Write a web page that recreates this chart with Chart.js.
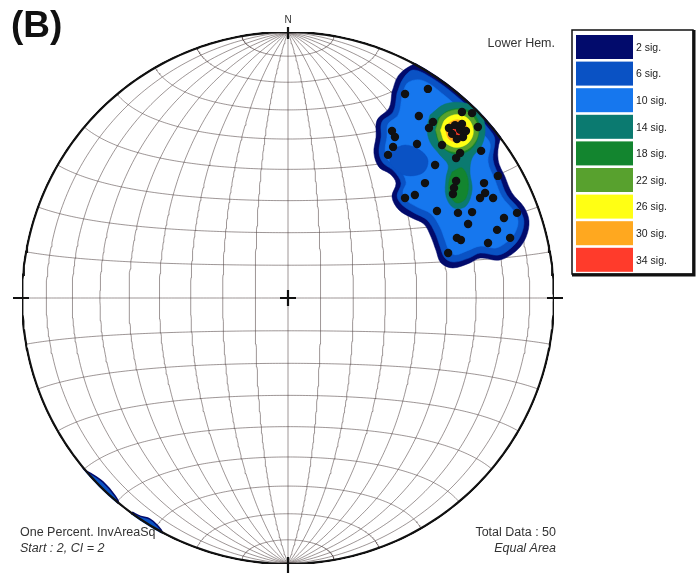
<!DOCTYPE html>
<html>
<head>
<meta charset="utf-8">
<script src="https://cdn.jsdelivr.net/npm/chart.js@4.4.1/dist/chart.umd.min.js"></script>
<style>
  html, body { margin: 0; padding: 0; background: #fff; }
</style>
</head>
<body>
<canvas id="chart" width="698" height="574"></canvas>
<script>
// poles: x = east, y = north, primitive radius = 1
const poleX = [0.526, 0.440, 0.492, 0.545, 0.530, 0.654, 0.692, 0.391, 0.402, 0.628,
               0.647, 0.617, 0.658, 0.635, 0.654, 0.714, 0.485, 0.579, 0.395, 0.376,
               0.647, 0.632, 0.726, 0.553, 0.789, 0.632, 0.624, 0.620, 0.515, 0.737,
               0.477, 0.440, 0.741, 0.722, 0.771, 0.560, 0.639, 0.692, 0.861, 0.677,
               0.812, 0.786, 0.635, 0.650, 0.835, 0.752, 0.602, 0.605, 0.669];
const poleY = [0.786, 0.767, 0.684, 0.662, 0.639, 0.699, 0.695, 0.628, 0.605, 0.650,
               0.632, 0.617, 0.605, 0.598, 0.654, 0.643, 0.579, 0.575, 0.568, 0.538,
               0.545, 0.526, 0.553, 0.500, 0.459, 0.440, 0.414, 0.391, 0.432, 0.432,
               0.387, 0.376, 0.395, 0.376, 0.376, 0.327, 0.320, 0.323, 0.320, 0.278,
               0.301, 0.256, 0.226, 0.218, 0.226, 0.207, 0.169, 0.639, 0.628];

const levelLabels = ['2 sig.', '6 sig.', '10 sig.', '14 sig.', '18 sig.', '22 sig.', '26 sig.', '30 sig.', '34 sig.'];
const levelColors = ['#020b6c', '#0a52c4', '#1677ee', '#0b7a70', '#13852f', '#58a12e', '#ffff14', '#ffa81f', '#ff3b2b'];

// contour outlines, [x, y] in the same net units
const contour2 = [[0.391, 0.775], [0.414, 0.835], [0.459, 0.872], [0.515, 0.895], [0.609, 0.914],
  [0.760, 0.820], [0.842, 0.677], [0.797, 0.594], [0.790, 0.519], [0.816, 0.455], [0.842, 0.395],
  [0.887, 0.342], [0.906, 0.290], [0.895, 0.229], [0.861, 0.180], [0.797, 0.143], [0.722, 0.150],
  [0.684, 0.132], [0.620, 0.113], [0.575, 0.132], [0.556, 0.180], [0.538, 0.229], [0.511, 0.278],
  [0.466, 0.301], [0.417, 0.331], [0.391, 0.380], [0.406, 0.432], [0.384, 0.466], [0.342, 0.492],
  [0.323, 0.545], [0.331, 0.605], [0.335, 0.669], [0.380, 0.714]];
const contour6 = [[0.410, 0.771], [0.432, 0.823], [0.470, 0.857], [0.536, 0.830], [0.620, 0.770],
  [0.697, 0.700], [0.766, 0.622], [0.778, 0.594], [0.771, 0.519], [0.797, 0.451], [0.823, 0.387],
  [0.868, 0.335], [0.887, 0.290], [0.876, 0.237], [0.846, 0.195], [0.793, 0.162], [0.722, 0.169],
  [0.680, 0.150], [0.624, 0.135], [0.590, 0.150], [0.571, 0.195], [0.553, 0.244], [0.523, 0.293],
  [0.474, 0.320], [0.429, 0.350], [0.410, 0.383], [0.425, 0.432], [0.398, 0.477], [0.357, 0.508],
  [0.342, 0.549], [0.350, 0.605], [0.353, 0.662], [0.395, 0.699]];
const contour10 = [[0.429, 0.763], [0.451, 0.810], [0.506, 0.818], [0.588, 0.762], [0.663, 0.693],
  [0.732, 0.618], [0.760, 0.579], [0.752, 0.511], [0.778, 0.444], [0.805, 0.380], [0.846, 0.331],
  [0.865, 0.290], [0.853, 0.244], [0.827, 0.214], [0.782, 0.188], [0.722, 0.195], [0.673, 0.177],
  [0.628, 0.162], [0.605, 0.180], [0.590, 0.218], [0.571, 0.267], [0.538, 0.316], [0.485, 0.342],
  [0.444, 0.368], [0.432, 0.398], [0.444, 0.436], [0.417, 0.489], [0.376, 0.519], [0.365, 0.556],
  [0.372, 0.605], [0.376, 0.654], [0.414, 0.688]];
const lowPatch6 = [[0.391, 0.556], [0.440, 0.575], [0.496, 0.556], [0.526, 0.519], [0.511, 0.474],
  [0.459, 0.459], [0.414, 0.474], [0.383, 0.511]];
const contour14 = [[0.534, 0.688], [0.590, 0.729], [0.665, 0.733], [0.722, 0.699], [0.741, 0.639],
  [0.729, 0.575], [0.692, 0.526], [0.684, 0.474], [0.692, 0.406], [0.669, 0.346], [0.624, 0.338],
  [0.594, 0.383], [0.594, 0.451], [0.602, 0.500], [0.571, 0.538], [0.534, 0.586], [0.523, 0.639]];
const contour18a = [[0.564, 0.677], [0.609, 0.707], [0.677, 0.707], [0.714, 0.669], [0.714, 0.602],
  [0.684, 0.556], [0.628, 0.541], [0.579, 0.568], [0.556, 0.620]];
const contour18b = [[0.617, 0.474], [0.654, 0.489], [0.677, 0.444], [0.669, 0.376], [0.635, 0.357],
  [0.609, 0.387], [0.605, 0.436]];
const contour22 = [[0.555, 0.632], [0.578, 0.685], [0.638, 0.708], [0.692, 0.685], [0.716, 0.625],
  [0.690, 0.570], [0.632, 0.548], [0.578, 0.572]];
const contour26 = [[0.573, 0.630], [0.592, 0.672], [0.637, 0.690], [0.679, 0.672], [0.697, 0.626],
  [0.679, 0.584], [0.634, 0.566], [0.591, 0.585]];
const contour30 = [[0.593, 0.629], [0.606, 0.658], [0.636, 0.670], [0.664, 0.658], [0.677, 0.627],
  [0.665, 0.598], [0.634, 0.586], [0.605, 0.598]];
const contour34 = [[0.609, 0.629], [0.617, 0.647], [0.636, 0.654], [0.654, 0.646], [0.661, 0.627],
  [0.653, 0.609], [0.635, 0.602], [0.617, 0.609]];
const edgeBlob1 = [[-0.782, -0.639], [-0.744, -0.658], [-0.695, -0.692], [-0.650, -0.744],
  [-0.639, -0.771], [-0.707, -0.759], [-0.789, -0.684]];
const edgeBlob2 = [[-0.586, -0.805], [-0.556, -0.820], [-0.519, -0.831], [-0.489, -0.857],
  [-0.474, -0.883], [-0.538, -0.872], [-0.594, -0.835]];

const netStep = 10;

// Schmidt (equal area) net, N-S axis vertical
function project(latDeg, lonDeg) {
  const phi = latDeg * Math.PI / 180, lam = lonDeg * Math.PI / 180;
  const k = 1 / Math.sqrt(1 + Math.cos(phi) * Math.cos(lam));
  return { x: k * Math.cos(phi) * Math.sin(lam), y: k * Math.sin(phi) };
}

function netLine(points, width, color, order) {
  return {
    data: points, showLine: true, fill: false, pointRadius: 0,
    borderColor: color, borderWidth: width, tension: 0, order: order
  };
}

function polygon(vertices, fillColor, order, edge) {
  const pts = vertices.map(v => ({ x: v[0], y: v[1] }));
  pts.push(pts[0]);
  return {
    data: pts, showLine: true, fill: 'shape', pointRadius: 0, tension: 0.35,
    backgroundColor: fillColor, borderColor: edge || fillColor, borderWidth: edge ? 1.5 : 0.5,
    order: order
  };
}

const datasets = [];

datasets.push({
  data: poleX.map((x, i) => ({ x: x, y: poleY[i] })),
  pointRadius: 4.2, pointBackgroundColor: '#111', pointBorderWidth: 0, order: 0
});

// primitive circle
for (const side of [-90, 90]) {
  const pts = [];
  for (let lat = -90; lat <= 90; lat += 1) pts.push(project(lat, side));
  datasets.push(netLine(pts, 2.4, '#111', 1));
}

datasets.push(polygon(contour34, levelColors[8], 2));
datasets.push(polygon(contour30, levelColors[7], 3));
datasets.push(polygon(contour26, levelColors[6], 4));
datasets.push(polygon(contour22, levelColors[5], 5));
datasets.push(polygon(contour18a, levelColors[4], 6));
datasets.push(polygon(contour18b, levelColors[4], 6));
datasets.push(polygon(contour14, levelColors[3], 7));
datasets.push(polygon(lowPatch6, levelColors[1], 8));
datasets.push(polygon(contour10, levelColors[2], 9));
datasets.push(polygon(contour6, levelColors[1], 10));
datasets.push(polygon(contour2, levelColors[0], 11));
datasets.push(polygon(edgeBlob1, levelColors[1], 11, levelColors[0]));
datasets.push(polygon(edgeBlob2, levelColors[1], 11, levelColors[0]));

// great circles and small circles
const gridColor = 'rgba(75, 60, 60, 0.6)';
for (let lon = -90 + netStep; lon < 90; lon += netStep) {
  const pts = [];
  for (let lat = -90; lat <= 90; lat += 1) pts.push(project(lat, lon));
  datasets.push(netLine(pts, 0.9, gridColor, 20));
}
for (let lat = -90 + netStep; lat < 90; lat += netStep) {
  const pts = [];
  for (let lon = -90; lon <= 90; lon += 1) pts.push(project(lat, lon));
  datasets.push(netLine(pts, 0.9, gridColor, 20));
}

const netClip = {
  id: 'netClip',
  beforeDatasetsDraw(chart) {
    const { ctx, scales: { x, y } } = chart;
    const cx = x.getPixelForValue(0), cy = y.getPixelForValue(0);
    const r = x.getPixelForValue(1) - cx;
    ctx.save();
    ctx.beginPath();
    ctx.arc(cx, cy, r + 1.2, 0, Math.PI * 2);
    ctx.clip();
  },
  afterDatasetsDraw(chart) {
    chart.ctx.restore();
  }
};

const decorations = {
  id: 'decorations',
  afterDraw(chart) {
    const { ctx, scales: { x, y } } = chart;
    const cx = x.getPixelForValue(0), cy = y.getPixelForValue(0);
    const r = x.getPixelForValue(1) - cx;
    ctx.save();
    ctx.strokeStyle = '#111';
    ctx.lineWidth = 2.2;
    ctx.beginPath();
    // centre cross and compass ticks
    ctx.moveTo(cx - 8, cy); ctx.lineTo(cx + 8, cy);
    ctx.moveTo(cx, cy - 8); ctx.lineTo(cx, cy + 8);
    ctx.moveTo(cx, cy - r - 5); ctx.lineTo(cx, cy - r + 7);
    ctx.moveTo(cx, cy + r - 7); ctx.lineTo(cx, cy + r + 9);
    ctx.moveTo(cx - r - 9, cy); ctx.lineTo(cx - r + 7, cy);
    ctx.moveTo(cx + r - 7, cy); ctx.lineTo(cx + r + 9, cy);
    ctx.stroke();

    ctx.fillStyle = '#111';
    ctx.font = 'bold 37px "Liberation Sans", Arial, sans-serif';
    ctx.textAlign = 'left';
    ctx.textBaseline = 'alphabetic';
    ctx.fillText('(B)', 11, 37);

    ctx.fillStyle = '#333';
    ctx.font = '10px "Liberation Sans", Arial, sans-serif';
    ctx.textAlign = 'center';
    ctx.fillText('N', cx, cy - r - 9);

    ctx.font = '12.5px "Liberation Sans", Arial, sans-serif';
    ctx.textAlign = 'right';
    ctx.fillText('Lower Hem.', 555, 47);
    ctx.fillText('Total Data : 50', 556, 536);
    ctx.font = 'italic 12.5px "Liberation Sans", Arial, sans-serif';
    ctx.fillText('Equal Area', 556, 552);
    ctx.textAlign = 'left';
    ctx.font = '12.5px "Liberation Sans", Arial, sans-serif';
    ctx.fillText('One Percent. InvAreaSq', 20, 536);
    ctx.font = 'italic 12.5px "Liberation Sans", Arial, sans-serif';
    ctx.fillText('Start : 2, CI = 2', 20, 552);

    // contour key
    const kx = chart.chartArea.right + 22, ky = 30;
    const rowH = 26.6;
    ctx.strokeStyle = '#111';
    ctx.lineWidth = 1.5;
    ctx.strokeRect(kx - 4, ky, 121, 244);
    ctx.lineWidth = 3;
    ctx.beginPath();
    ctx.moveTo(kx + 118, ky); ctx.lineTo(kx + 118, ky + 245);
    ctx.lineTo(kx - 4, ky + 245);
    ctx.stroke();
    ctx.font = '10.5px "Liberation Sans", Arial, sans-serif';
    ctx.textBaseline = 'middle';
    levelLabels.forEach((label, i) => {
      const top = ky + 5 + i * rowH;
      ctx.fillStyle = levelColors[i];
      ctx.fillRect(kx, top, 57, 24);
      ctx.fillStyle = '#222';
      ctx.fillText(label, kx + 60, top + 13);
    });
    ctx.restore();
  }
};

new Chart(document.getElementById('chart'), {
  type: 'scatter',
  data: { datasets: datasets },
  options: {
    responsive: false,
    animation: false,
    devicePixelRatio: 1,
    layout: { padding: { left: 22, right: 144, top: 32, bottom: 10 } },
    scales: {
      x: { type: 'linear', min: -1, max: 1, display: false },
      y: { type: 'linear', min: -1, max: 1, display: false }
    },
    plugins: {
      legend: { display: false },
      tooltip: { enabled: false }
    }
  },
  plugins: [netClip, decorations]
});
</script>
</body>
</html>
